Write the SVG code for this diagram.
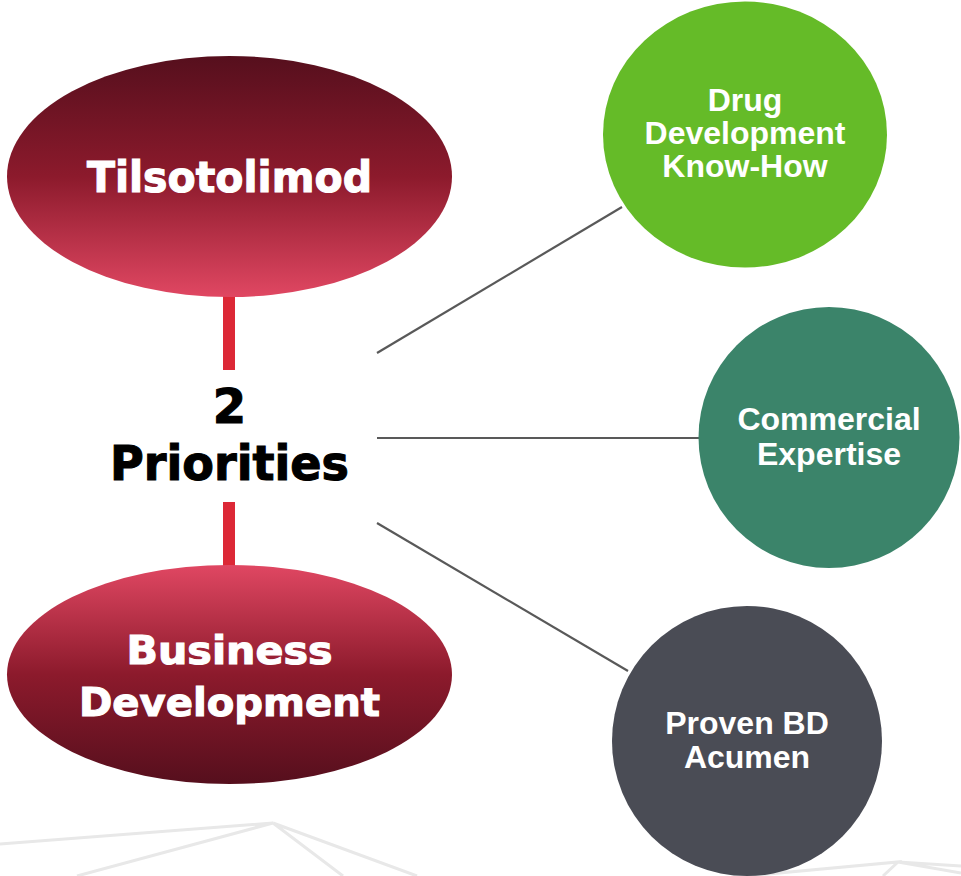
<svg xmlns="http://www.w3.org/2000/svg" width="961" height="876" viewBox="0 0 961 876">
<defs>
<linearGradient id="gDown" x1="0" y1="0" x2="0" y2="1">
<stop offset="0" stop-color="#560f1d"/>
<stop offset="0.5" stop-color="#8c1a2c"/>
<stop offset="1" stop-color="#e04762"/>
</linearGradient>
<linearGradient id="gUp" x1="0" y1="0" x2="0" y2="1">
<stop offset="0" stop-color="#e04762"/>
<stop offset="0.5" stop-color="#8c1a2c"/>
<stop offset="1" stop-color="#560f1d"/>
</linearGradient>
</defs>
<style>
.deco{stroke:#e8e8e8;stroke-width:3;fill:none}
.conn{stroke:#595959;stroke-width:2.2;fill:none}
.bar{fill:#dc2836}
.big{font-family:"DejaVu Sans","Liberation Sans",sans-serif;font-weight:bold;fill:#fff;text-anchor:middle;stroke:#fff;stroke-width:1.1}
.mid{font-family:"DejaVu Sans","Liberation Sans",sans-serif;font-weight:bold;fill:#000;text-anchor:middle;stroke:#000;stroke-width:1.1}
.lbl{font-family:"Liberation Sans",Arial,sans-serif;font-weight:bold;fill:#fff;text-anchor:middle;font-size:32px}
</style>
<g id="background">
<path class="deco" d="M0 844 L273 823 L77 876 M273 823 L343 876 M273 823 L417 876"/>
<path class="deco" d="M747 876 L898 862 L883 876 M898 862 L961 866 M898 862 L961 873"/>
</g>
<g id="connectors">
<rect class="bar" x="223" y="296" width="12" height="74"/>
<rect class="bar" x="223" y="502" width="12" height="64"/>
<line class="conn" x1="377" y1="353" x2="622" y2="207"/>
<line class="conn" x1="377" y1="438" x2="699" y2="438"/>
<line class="conn" x1="377" y1="523" x2="628" y2="671"/>
</g>
<g id="tilsotolimod">
<ellipse cx="229.5" cy="176.5" rx="222.5" ry="120.5" fill="url(#gDown)"/>
<text class="big" x="229.5" y="192" font-size="42" textLength="285" lengthAdjust="spacingAndGlyphs">Tilsotolimod</text>
</g>
<g id="priorities">
<text class="mid" x="229.5" y="423" font-size="48">2</text>
<text class="mid" x="229.5" y="480" font-size="48" textLength="239" lengthAdjust="spacingAndGlyphs">Priorities</text>
</g>
<g id="business-development">
<ellipse cx="229.5" cy="674.5" rx="222.5" ry="109.5" fill="url(#gUp)"/>
<text class="big" x="229.5" y="664" font-size="39" textLength="206" lengthAdjust="spacingAndGlyphs">Business</text>
<text class="big" x="229.5" y="716" font-size="39" textLength="301" lengthAdjust="spacingAndGlyphs">Development</text>
</g>
<g id="drug-development">
<ellipse cx="745" cy="134.5" rx="142" ry="133" fill="#65bb28"/>
<text class="lbl" x="745" y="111">Drug</text>
<text class="lbl" x="745" y="144">Development</text>
<text class="lbl" x="745" y="177">Know-How</text>
</g>
<g id="commercial-expertise">
<circle cx="829" cy="437.5" r="130.5" fill="#3b846a"/>
<text class="lbl" x="829" y="430">Commercial</text>
<text class="lbl" x="829" y="465">Expertise</text>
</g>
<g id="proven-bd">
<circle cx="747" cy="741" r="135" fill="#4a4c55"/>
<text class="lbl" x="747" y="734" font-size="31">Proven BD</text>
<text class="lbl" x="747" y="768" font-size="31">Acumen</text>
</g>
</svg>
